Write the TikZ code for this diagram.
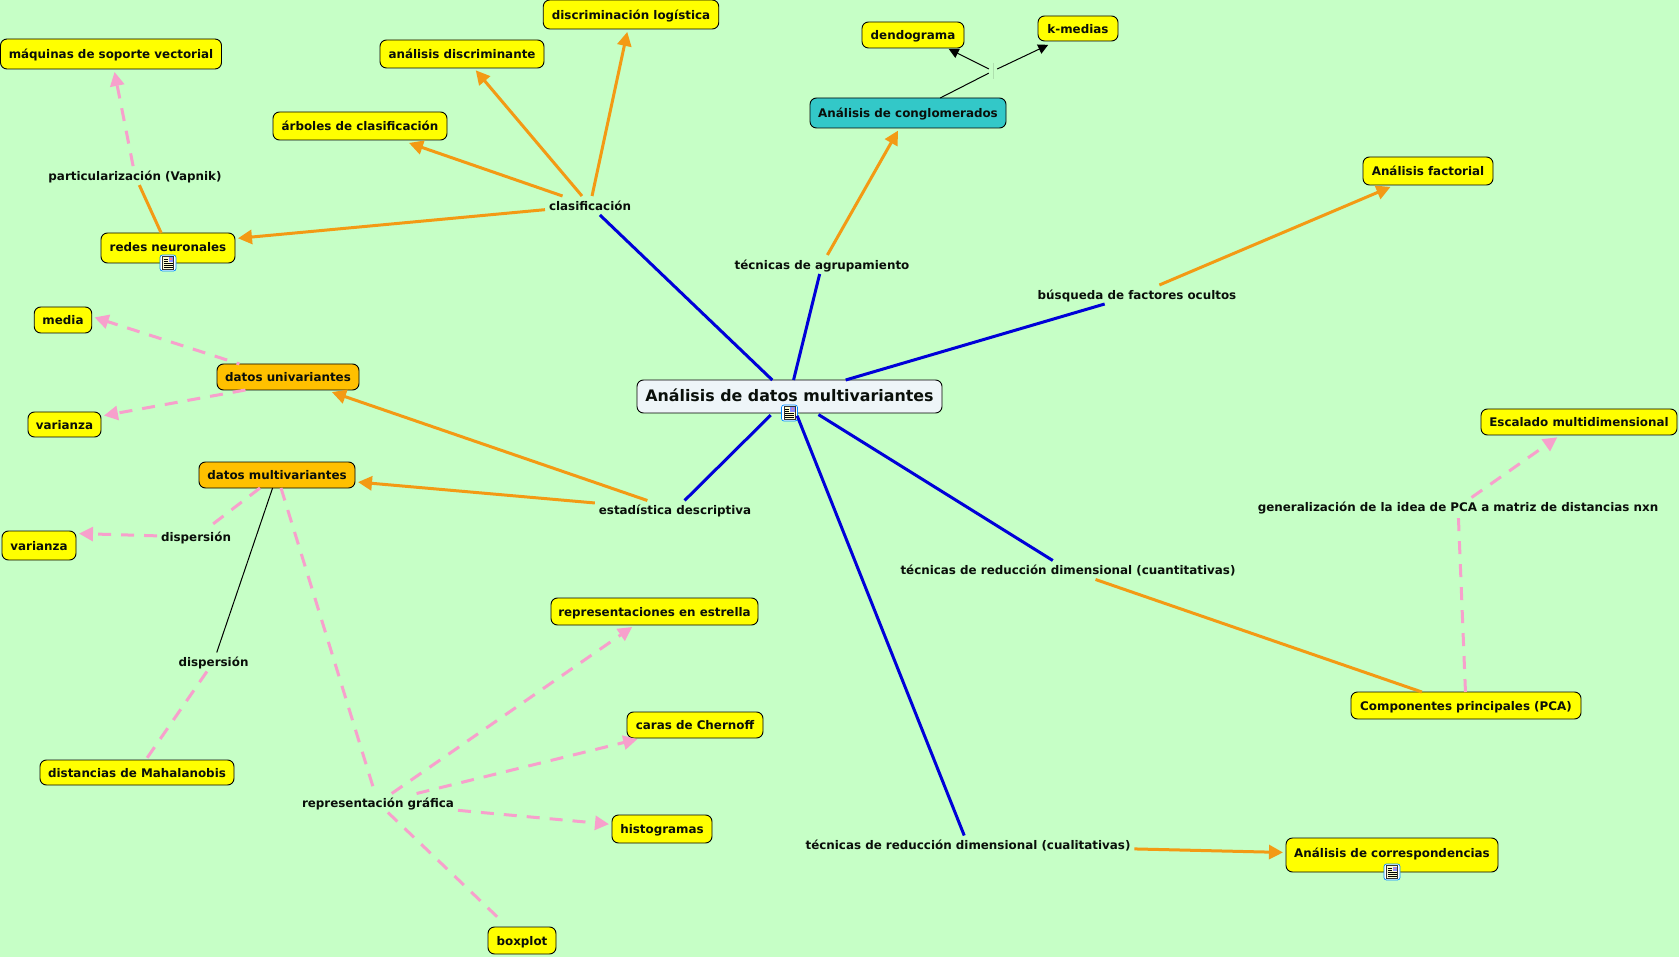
\documentclass[tikz,border=0pt]{standalone}
\usepackage{fontspec}
\setmainfont{DejaVu Sans}
\usetikzlibrary{arrows.meta}
\definecolor{fondo}{HTML}{C6FFC6}
\definecolor{azul}{HTML}{0000D8}
\definecolor{naranja}{HTML}{F39A14}
\definecolor{rosa}{HTML}{F7A0CC}
\definecolor{amarillo}{HTML}{FFFF00}
\definecolor{ambar}{HTML}{FFC000}
\definecolor{turquesa}{HTML}{33C8C8}
\definecolor{perla}{HTML}{EEF5F8}
\definecolor{tinta}{HTML}{0A0F0A}
\tikzset{
  x=1pt,y=-1pt,
  caja/.style={draw=black,line width=.9pt,rounded corners=6.5pt,inner sep=0pt,outer sep=0pt,
    text=tinta,font=\fontsize{11.9}{14}\selectfont\bfseries,text height=11pt,text depth=1.5pt},
  hoja/.style={caja,fill=amarillo},
  dato/.style={caja,fill=ambar},
  grupo/.style={caja,fill=turquesa},
  raiz/.style={caja,fill=perla,font=\fontsize{15.85}{18}\selectfont\bfseries,text height=13pt,text depth=3pt},
  etiq/.style={inner xsep=4pt,inner ysep=0pt,minimum height=19pt,outer sep=0pt,text=tinta,
    font=\fontsize{11.9}{14}\selectfont\bfseries,text height=11pt,text depth=1.5pt},
  rama/.style={draw=azul,line width=3pt},
  flecha/.style={draw=naranja,line width=3pt,-{Triangle[length=14pt,width=14pt]},shorten >=3pt},
  linea/.style={draw=naranja,line width=3pt},
  punteada/.style={draw=rosa,line width=3pt,dash pattern=on 13pt off 10pt},
  rosada/.style={punteada,-{Triangle[length=14pt,width=14pt]},shorten >=3pt},
  fina/.style={draw=black,line width=1pt},
  finaflecha/.style={fina,-{Triangle[length=10pt,width=10pt]},shorten >=2pt},
  icono/.pic={
    \draw[draw=blue!45!cyan,fill=white,rounded corners=2.5pt,line width=.7pt] (-8,-8) rectangle (8,8);
    \draw[draw=black!80,fill=yellow!18,line width=.6pt] (-5.5,-6.5) rectangle (5.5,6.5);
    \fill[blue!45] (0.5,-5.5) rectangle (5,-1);
    \fill[red!50] (2,-4.5) rectangle (3.5,-3);
    \draw[line width=.5pt] (-4.5,-4)--(-0.5,-4) (-4.5,-2)--(-0.5,-2) (-4.5,0.7)--(4.5,0.7) (-4.5,2.7)--(4.5,2.7) (-4.5,4.7)--(4.5,4.7);
  }
}
\begin{document}
\begin{tikzpicture}
\useasboundingbox[fill=fondo] (0,0) rectangle (1679,957);
% conceptos
\node[raiz,minimum width=305pt,minimum height=33pt] (central) at (789.5,396.5) {Análisis de datos multivariantes};
\node[hoja,minimum width=175.5pt,minimum height=29pt] (disclog) at (631,14.5) {discriminación logística};
\node[hoja,minimum width=164pt,minimum height=28pt] (analdisc) at (462,54) {análisis discriminante};
\node[hoja,minimum width=174pt,minimum height=28pt] (arboles) at (360,126) {árboles de clasificación};
\node[hoja,minimum width=221pt,minimum height=30pt] (maquinas) at (111,54) {máquinas de soporte vectorial};
\node[hoja,minimum width=134pt,minimum height=30pt,text height=10pt,text depth=3pt] (redes) at (168,248) {redes neuronales};
\node[hoja,minimum width=57.5pt,minimum height=26pt] (media) at (63,320) {media};
\node[dato,minimum width=142pt,minimum height=26pt] (uni) at (288,377) {datos univariantes};
\node[hoja,minimum width=73pt,minimum height=25pt] (varuno) at (64.5,424.5) {varianza};
\node[dato,minimum width=156pt,minimum height=26pt] (multi) at (277,475) {datos multivariantes};
\node[hoja,minimum width=74pt,minimum height=29pt] (vardos) at (39,545.5) {varianza};
\node[hoja,minimum width=194pt,minimum height=25pt] (dist) at (137,772.5) {distancias de Mahalanobis};
\node[hoja,minimum width=207pt,minimum height=27pt] (repr) at (654.5,611.5) {representaciones en estrella};
\node[hoja,minimum width=136pt,minimum height=26pt] (caras) at (695,725) {caras de Chernoff};
\node[hoja,minimum width=100pt,minimum height=28pt] (hist) at (662,829) {histogramas};
\node[hoja,minimum width=68pt,minimum height=27pt] (boxp) at (522,940.5) {boxplot};
\node[hoja,minimum width=212pt,minimum height=34pt,text height=9pt,text depth=5pt] (corresp) at (1392,855) {Análisis de correspondencias};
\node[hoja,minimum width=230pt,minimum height=27pt] (comp) at (1466,705.5) {Componentes principales (PCA)};
\node[hoja,minimum width=196pt,minimum height=26pt] (escal) at (1579,422) {Escalado multidimensional};
\node[hoja,minimum width=130pt,minimum height=28pt] (factorial) at (1428,171) {Análisis factorial};
\node[grupo,minimum width=196pt,minimum height=30pt] (congl) at (908,113) {Análisis de conglomerados};
\node[hoja,minimum width=102pt,minimum height=26pt] (dend) at (913,35) {dendograma};
\node[hoja,minimum width=80pt,minimum height=25pt] (kmed) at (1078,28.5) {k-medias};
% frases de enlace
\node[etiq] (clasif) at (590,205.5) {clasificación};
\node[etiq] (agrup) at (822,264.5) {técnicas de agrupamiento};
\node[etiq] (busq) at (1137,294.5) {búsqueda de factores ocultos};
\node[etiq] (part) at (135,175.6) {particularización (Vapnik)};
\node[etiq] (estad) at (675,510) {estadística descriptiva};
\node[etiq] (dispuno) at (196,537) {dispersión};
\node[etiq] (dispdos) at (213.5,662) {dispersión};
\node[etiq] (grafica) at (378,803) {representación gráfica};
\node[etiq] (cuant) at (1068,570) {técnicas de reducción dimensional (cuantitativas)};
\node[etiq] (cual) at (968,845) {técnicas de reducción dimensional (cualitativas)};
\node[etiq] (gener) at (1458,507) {generalización de la idea de PCA a matriz de distancias nxn};
\node[inner sep=0pt,minimum width=8pt,minimum height=16pt] (vacio) at (993,71) {};
\draw[draw=fondo!88!black,line width=.7pt] (vacio.north) -- (vacio.south);
% iconos
\pic at (central.south) {icono};
\pic at (redes.south) {icono};
\pic at (corresp.south) {icono};
% ramas azules
\draw[rama] (central) -- (clasif);
\draw[rama] (central) -- (agrup);
\draw[rama] (central) -- (busq);
\draw[rama,shorten <=3pt] (central) -- (estad);
\draw[rama,shorten <=3pt] (central) -- (cuant);
\draw[rama,shorten <=3pt] (central) -- (cual);
% flechas naranjas
\draw[flecha] (clasif) -- (disclog);
\draw[flecha] (clasif) -- (analdisc);
\draw[flecha,shorten >=9pt] (clasif) -- (arboles);
\draw[flecha] (clasif) -- (redes.8);
\draw[flecha] (agrup) -- (congl);
\draw[flecha,shorten >=5pt] (busq) -- (factorial);
\draw[flecha,shorten >=6.5pt] (estad) -- (uni);
\draw[flecha] (estad) -- (multi);
\draw[flecha] (cual) -- (corresp);
\draw[linea] (redes) -- (part);
\draw[linea] (cuant) -- (comp.163);
% enlaces rosas
\draw[rosada] (part) -- (maquinas);
\draw[rosada,dash phase=10pt] (uni.165) -- (media.7);
\draw[rosada] (uni.197.6) -- (varuno.13);
\draw[punteada] (multi) -- (dispuno);
\draw[rosada] (dispuno) -- (vardos.18);
\draw[punteada] (dispdos) -- (dist);
\draw[punteada] (multi) -- (grafica);
\draw[rosada,shorten >=3.5pt] (grafica) -- (repr);
\draw[rosada,shorten >=5pt] (grafica) -- (caras);
\draw[rosada] (grafica) -- (hist);
\draw[punteada,shorten >=6pt] (grafica) -- (boxp);
\draw[punteada] (comp) -- (gener);
\draw[rosada,shorten >=4pt] (gener) -- (escal);
% enlaces finos
\draw[fina] (multi) -- (dispdos);
\draw[fina] (congl.25) -- (vacio);
\draw[finaflecha] (vacio) -- (dend.-21.5);
\draw[finaflecha,shorten >=9pt] (vacio) -- (kmed.210);
\end{tikzpicture}
\end{document}
